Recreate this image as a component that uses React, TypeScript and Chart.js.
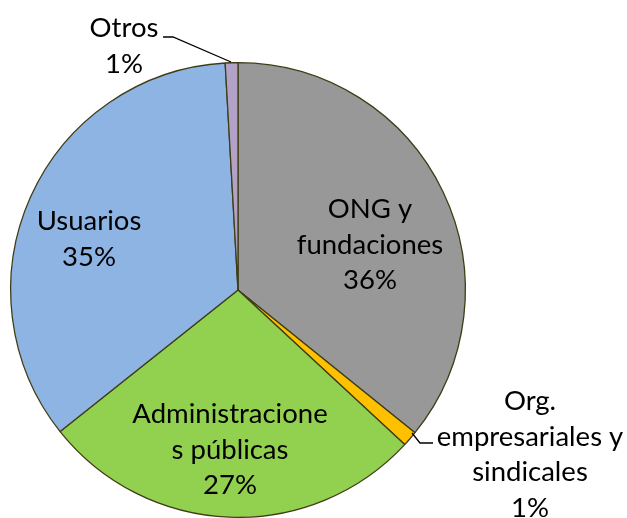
import React, { useEffect, useRef } from "react";
import { Chart, registerables } from "chart.js";

Chart.register(...registerables);

const categories = [
  "ONG y fundaciones",
  "Org. empresariales y sindicales",
  "Administraciones públicas",
  "Usuarios",
  "Otros",
];
const values = [35.8, 1.1, 27.4, 34.8, 0.9];
const labelLines = [
  ["ONG y", "fundaciones"],
  ["Org.", "empresariales y", "sindicales"],
  ["Administracione", "s públicas"],
  ["Usuarios"],
  ["Otros"],
];
const colors = ["#989898", "#FFC000", "#92D050", "#8EB4E3", "#B3A2C7"];

// label anchor (center x, first baseline y) and optional leader line points
const labelPlacement = [
  { x: 370, y: 218, leader: null },
  { x: 530, y: 410, leader: [[433, 443], [420, 443], [412, 433]] },
  { x: 230, y: 423, leader: null },
  { x: 89, y: 230, leader: null },
  { x: 124, y: 37, leader: [[163, 37], [173, 37], [231, 62]] },
];

const labelsPlugin = {
  id: "customLabels",
  afterDatasetsDraw(chart: any) {
    const ctx = chart.ctx;
    const data = chart.data.datasets[0].data as number[];
    const total = data.reduce((a, b) => a + b, 0);
    ctx.save();
    ctx.font = "27.5px Lato";
    ctx.fillStyle = "#000";
    ctx.textAlign = "center";
    ctx.textBaseline = "alphabetic";
    const lh = 35.5;
    data.forEach((v, i) => {
      const p = labelPlacement[i];
      const lines = [...labelLines[i], Math.round((v / total) * 100) + "%"];
      lines.forEach((t, j) => ctx.fillText(t, p.x, p.y + j * lh));
      if (p.leader) {
        ctx.beginPath();
        ctx.strokeStyle = "#000";
        ctx.lineWidth = 1.3;
        p.leader.forEach((pt, k) => (k === 0 ? ctx.moveTo(pt[0], pt[1]) : ctx.lineTo(pt[0], pt[1])));
        ctx.stroke();
      }
    });
    ctx.restore();
  },
};

export default function App() {
  const ref = useRef<HTMLCanvasElement>(null);
  useEffect(() => {
    document.body.style.margin = "0";
    const chart = new Chart(ref.current!, {
      type: "pie",
      data: {
        labels: categories,
        datasets: [
          {
            data: values,
            backgroundColor: colors,
            borderColor: "#3f3d16",
            borderWidth: 1.3,
          },
        ],
      },
      options: {
        responsive: false,
        animation: false,
        layout: { padding: { left: 10, right: 161, top: 62, bottom: 0 } },
        plugins: { legend: { display: false }, tooltip: { enabled: false } },
      },
      plugins: [labelsPlugin],
    });
    return () => chart.destroy();
  }, []);
  return (
    <div style={{ position: "absolute", left: 0, top: 0, width: 627, height: 518, background: "#fff" }}>
      <canvas ref={ref} width={627} height={518} />
    </div>
  );
}
